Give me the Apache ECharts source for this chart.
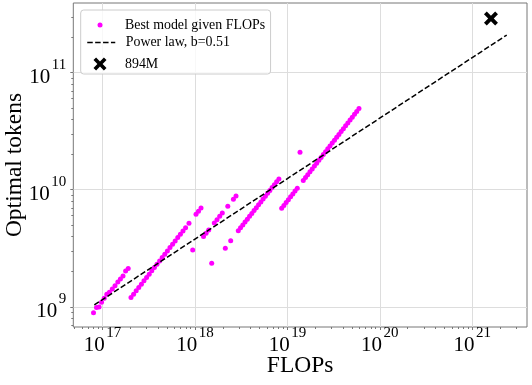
<!DOCTYPE html>
<html><head><meta charset="utf-8">
<script src="https://cdn.jsdelivr.net/npm/echarts@6/dist/echarts.min.js"></script>
<style>html,body{margin:0;padding:0;background:#fff}#c{width:532px;height:385px}</style>
</head><body><div id="c"></div>
<script>
// ---- data ----
const bestFlops = [
  7.99e16, 8.61e16, 9.165e16, 9.754e16, 1.043e17, 1.113e17, 1.188e17, 1.276e17, 1.365e17, 1.464e17, 1.562e17, 1.666e17, 1.778e17, 1.897e17,
  2.033e17, 2.169e17, 2.314e17, 2.469e17, 2.634e17, 2.810e17, 2.998e17, 3.199e17, 3.413e17, 3.641e17, 3.885e17, 4.145e17, 4.422e17, 4.718e17,
  5.033e17, 5.370e17, 5.729e17, 6.112e17, 6.521e17, 6.957e17, 7.422e17, 7.919e17, 8.622e17, 9.456e17, 1.027e18, 1.092e18, 1.163e18,
  1.2375e18, 1.320e18, 1.408e18, 1.518e18, 1.619e18, 1.732e18, 1.852e18, 1.976e18, 2.130e18, 2.266e18, 2.436e18, 2.606e18, 2.780e18,
  2.943e18, 3.113e18, 3.293e18, 3.483e18, 3.685e18, 3.898e18, 4.123e18, 4.361e18, 4.613e18, 4.880e18, 5.162e18, 5.460e18, 5.775e18,
  6.109e18, 6.462e18, 6.836e18, 7.231e18, 7.649e18, 8.091e18,
  8.675e18, 9.170e18, 9.693e18, 1.0247e19, 1.0831e19, 1.1449e19, 1.2103e19, 1.2794e19, 1.369e19,
  1.486e19, 1.571e19, 1.660e19, 1.755e19, 1.855e19, 1.961e19, 2.073e19, 2.191e19, 2.316e19, 2.448e19, 2.588e19, 2.735e19, 2.891e19,
  3.056e19, 3.231e19, 3.415e19, 3.610e19, 3.816e19, 4.033e19, 4.263e19, 4.507e19, 4.764e19, 5.035e19, 5.323e19, 5.626e19, 5.947e19
];
const bestTokens = [
  8.904e8, 9.84e8, 9.94e8, 1.095e9, 1.182e9, 1.279e9, 1.333e9, 1.419e9, 1.515e9, 1.629e9, 1.728e9, 1.833e9, 2.022e9, 2.124e9,
  1.201e9, 1.282e9, 1.369e9, 1.461e9, 1.560e9, 1.666e9, 1.778e9, 1.898e9, 2.027e9, 2.164e9, 2.310e9, 2.466e9, 2.633e9, 2.811e9,
  3.001e9, 3.204e9, 3.421e9, 3.652e9, 3.899e9, 4.162e9, 4.444e9, 4.744e9, 5.167e9, 3.057e9, 6.162e9, 6.561e9, 6.983e9,
  3.987e9, 4.249e9, 4.529e9, 2.353e9, 5.196e9, 5.550e9, 5.932e9, 6.321e9, 3.161e9, 7.232e9, 3.670e9, 8.296e9, 8.844e9,
  4.468e9, 4.728e9, 5.003e9, 5.294e9, 5.601e9, 5.927e9, 6.272e9, 6.636e9, 7.022e9, 7.430e9, 7.862e9, 8.320e9, 8.803e9,
  9.315e9, 9.857e9, 1.0430e10, 1.1036e10, 1.1678e10, 1.2357e10,
  6.941e9, 7.345e9, 7.773e9, 8.226e9, 8.705e9, 9.212e9, 9.748e9, 1.0316e10, 2.089e10,
  1.2018e10, 1.2718e10, 1.3458e10, 1.4241e10, 1.5070e10, 1.5948e10, 1.6876e10, 1.7858e10, 1.8898e10, 1.9998e10, 2.1162e10, 2.2394e10, 2.3697e10,
  2.5076e10, 2.6536e10, 2.8081e10, 2.9715e10, 3.1445e10, 3.3275e10, 3.5212e10, 3.7262e10, 3.9431e10, 4.1726e10, 4.4155e10, 4.6726e10, 4.9446e10
];
const fitFlops = [8.15e16, 2.36e21];
const fitTokens = [1.036e9, 2.10e11];
const markerFlops = [1.593e21];
const markerTokens = [2.905e11];
const xTickExps = [17, 18, 19, 20, 21];
const yTickExps = [9, 10, 11];
const xMinorDecades = [16, 17, 18, 19, 20, 21];
const yMinorDecades = [8, 9, 10, 11];
const minorMultipliers = [2, 3, 4, 5, 6, 7, 8, 9];

// ---- build ----
const L = Math.log10;
const best = bestFlops.map((f, i) => [L(f), L(bestTokens[i])]);
const fit = fitFlops.map((f, i) => [L(f), L(fitTokens[i])]);
const marker = markerFlops.map((f, i) => [L(f), L(markerTokens[i])]);
const minorOf = decs => { const r = []; decs.forEach(d => minorMultipliers.forEach(k => r.push(d + L(k)))); return r; };
const X_MIN = 16.684, X_MAX = 21.592, Y_MIN = 8.827, Y_MAX = 11.596;
const xMinor = minorOf(xMinorDecades).filter(v => v > X_MIN && v < X_MAX);
const yMinor = minorOf(yMinorDecades).filter(v => v > Y_MIN && v < Y_MAX);

const SERIF = "'Liberation Serif', 'DejaVu Serif', serif";
const XPATH = 'path://M2,0 L5,3 L8,0 L10,2 L7,5 L10,8 L8,10 L5,7 L2,10 L0,8 L3,5 L0,2 Z';
const GRAY = '#777777';
const rich = {
  b: { fontFamily: SERIF, fontSize: 21, lineHeight: 30.5, verticalAlign: 'bottom', color: '#000' },
  s: { fontFamily: SERIF, fontSize: 15, lineHeight: 15, verticalAlign: 'top', color: '#000', padding: [0, 0, 0, 1.5] }
};
const fmt = v => '{b|10}{s|' + Math.round(v) + '}';
const legendText = pad => ({ fontFamily: SERIF, fontSize: 13.9, lineHeight: 15, color: '#000', padding: [0, 0, 0, pad] });

const chart = echarts.init(document.getElementById('c'), null, { renderer: 'canvas' });
chart.setOption({
  animation: false,
  backgroundColor: '#fff',
  grid: { left: 73.3, right: 5, top: 3, bottom: 58, show: true, borderColor: GRAY, borderWidth: 1,
          backgroundColor: 'transparent', containLabel: false, outerBoundsMode: 'none' },
  xAxis: [
    { type: 'value', min: X_MIN, max: X_MAX,
      axisLine: { show: false },
      axisTick: { show: true, length: 3, lineStyle: { color: GRAY }, customValues: xTickExps },
      axisLabel: { show: true, customValues: xTickExps, margin: -1.5, formatter: fmt, rich: rich },
      splitLine: { show: true, lineStyle: { color: '#dddddd', width: 1 } },
      name: 'FLOPs', nameLocation: 'middle', nameGap: 27, nameMoveOverlap: false,
      nameTextStyle: { fontFamily: SERIF, fontSize: 23.5, color: '#000' } },
    { type: 'value', min: X_MIN, max: X_MAX, position: 'bottom',
      axisLine: { show: false }, axisLabel: { show: false }, splitLine: { show: false },
      axisTick: { show: true, length: 2, lineStyle: { color: GRAY }, customValues: xMinor } }
  ],
  yAxis: [
    { type: 'value', min: Y_MIN, max: Y_MAX,
      axisLine: { show: false },
      axisTick: { show: true, length: 3, lineStyle: { color: GRAY }, customValues: yTickExps },
      axisLabel: { show: true, customValues: yTickExps, margin: 7, formatter: fmt, rich: rich },
      splitLine: { show: true, lineStyle: { color: '#dddddd', width: 1 } },
      name: 'Optimal tokens', nameLocation: 'middle', nameGap: 46, nameMoveOverlap: false,
      nameTextStyle: { fontFamily: SERIF, fontSize: 23.5, color: '#000' } },
    { type: 'value', min: Y_MIN, max: Y_MAX, position: 'left',
      axisLine: { show: false }, axisLabel: { show: false }, splitLine: { show: false },
      axisTick: { show: true, length: 2, lineStyle: { color: GRAY }, customValues: yMinor } }
  ],
  legend: [
    { data: [{ name: 'Best model given FLOPs', icon: 'circle' }], orient: 'vertical', left: 80.7, top: 10,
      padding: [7.5, 5.5, 41.5, 16.8], itemWidth: 5, itemHeight: 5,
      backgroundColor: 'rgba(255,255,255,0.8)', borderColor: '#cccccc', borderWidth: 1, borderRadius: 3,
      textStyle: legendText(17.5), selectedMode: false, z: 5 },
    { data: [{ name: 'Power law, b=0.51' }], orient: 'vertical', left: 86.5, top: 35, padding: 0,
      itemWidth: 28, itemHeight: 14, itemStyle: { opacity: 0 },
      lineStyle: { color: '#000', width: 1.5, type: [5.5, 2.4] },
      textStyle: legendText(5.5), selectedMode: false, z: 6 },
    { data: [{ name: '894M', icon: XPATH }], orient: 'vertical', left: 93.5, top: 56.5, padding: 0,
      itemWidth: 13, itemHeight: 13, textStyle: legendText(13.5), selectedMode: false, z: 6 }
  ],
  series: [
    { type: 'scatter', name: 'Best model given FLOPs', xAxisIndex: 0, yAxisIndex: 0, data: best,
      symbol: 'circle', symbolSize: 5, itemStyle: { color: '#ff00ff', opacity: 1 }, z: 2, silent: true },
    { type: 'line', name: 'Power law, b=0.51', xAxisIndex: 0, yAxisIndex: 0, data: fit, symbol: 'none',
      lineStyle: { color: '#000', width: 1.5, type: [5.5, 2.4] }, z: 3, silent: true },
    { type: 'scatter', name: '894M', xAxisIndex: 0, yAxisIndex: 0, data: marker, symbol: XPATH,
      symbolSize: 14, itemStyle: { color: '#000', opacity: 1 }, z: 4, silent: true }
  ]
});
</script>
</body></html>
